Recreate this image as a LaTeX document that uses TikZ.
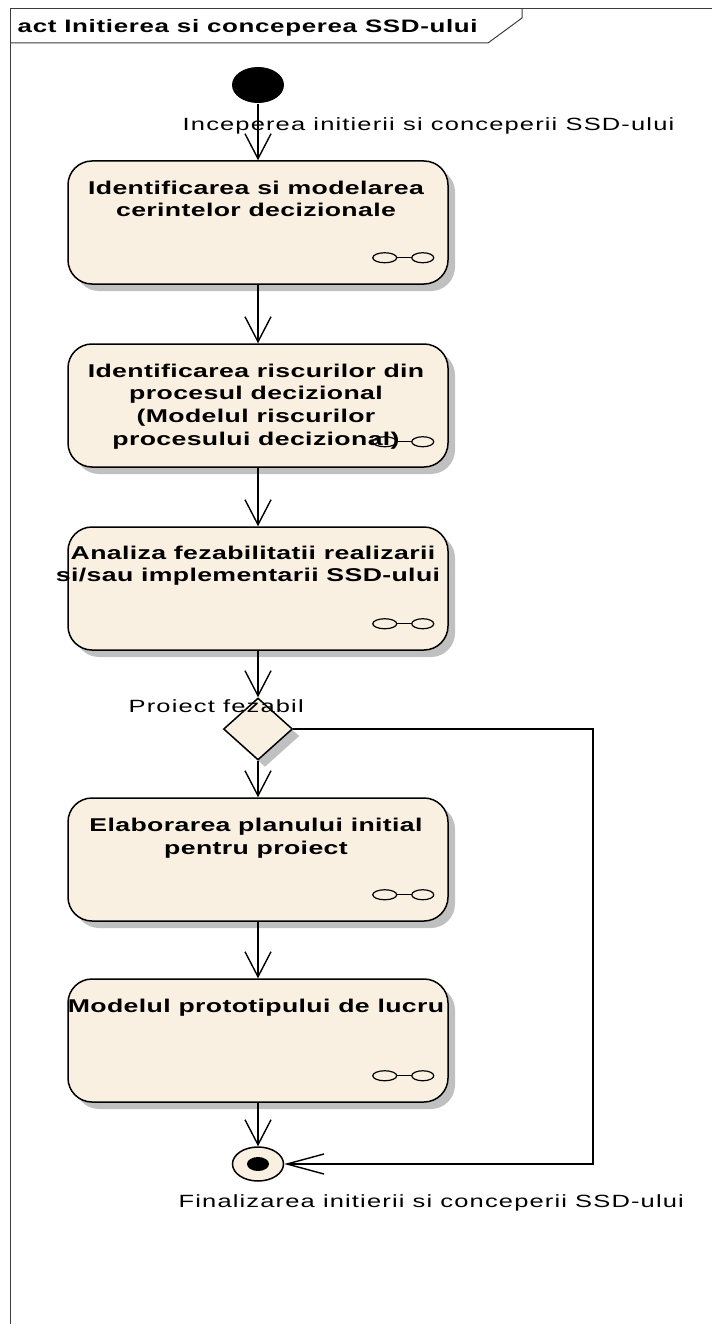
\documentclass[tikz,border=0pt]{standalone}
\usepackage{fontspec}
\setmainfont{Liberation Sans}
\newfontfamily\ftlblfam[FakeStretch=1.44,LetterSpace=6.5]{Liberation Sans}
\newfontfamily\ftboxfam[FakeStretch=1.44,LetterSpace=2]{Liberation Sans}
\newfontfamily\ftheadfam[FakeStretch=1.44,LetterSpace=3.7]{Liberation Sans}
\usetikzlibrary{shapes.geometric,arrows.meta,shadows,calc}
\definecolor{boxfill}{RGB}{250,240,226}
\definecolor{shadowgray}{RGB}{192,192,192}
\definecolor{framecol}{RGB}{60,60,60}
\begin{document}
\begin{tikzpicture}[x=1pt,y=-1pt,line width=1.4pt,
  shad/.style={drop shadow={shadow xshift=7pt,shadow yshift=-7pt,fill=shadowgray,opacity=1}},
  actbox/.style={draw,line width=1.5pt,fill=boxfill,rounded corners=24pt,minimum width=380pt,minimum height=123pt,inner sep=0pt,shad},
  boxtxt/.style={anchor=base,inner sep=0pt,font=\ftboxfam\bfseries\fontsize{18.5}{23}\selectfont},
  lbl/.style={anchor=base west,inner sep=0pt,font=\ftlblfam\fontsize{17.7}{21}\selectfont},
  varrow/.style={-{Straight Barb[length=25pt,width=26pt]}},
  harrow/.style={-{Straight Barb[length=37pt,width=20pt]}},
  icon/.style={line width=1.2pt},
  framestyle/.style={draw=framecol,line width=1pt}]
\useasboundingbox (0,0) rectangle (712,1324);
% frame
\draw[framestyle] (712,9) -- (10,9) -- (10,1324);
\draw[framestyle] (10,43) -- (488,43) -- (522,18) -- (522,9);
\node[anchor=base west,inner sep=0pt,font=\ftheadfam\bfseries\fontsize{18}{20}\selectfont] (hdr) at (17,33) {act Initierea si conceperea SSD-ului};
% nodes
\node[ellipse,fill=black,minimum width=52pt,minimum height=36pt,inner sep=0pt] (start) at (258,85) {};
\node[actbox] (b1) at (258,222.5) {};
\node[actbox] (b2) at (258,405.5) {};
\node[actbox] (b3) at (258,588.5) {};
\node[diamond,draw,line width=1.5pt,fill=boxfill,minimum width=69pt,minimum height=62pt,inner sep=0pt,shad] (dec) at (258,729) {};
\node[actbox] (b4) at (258,859.5) {};
\node[actbox] (b5) at (258,1040.5) {};
\node[ellipse,draw,line width=1.5pt,fill=boxfill,minimum width=51pt,minimum height=34pt,inner sep=0pt] (fin) at (258,1164) {};
\fill (fin.center) ellipse[x radius=11,y radius=7];
% icons
\foreach \b/\dy in {b1/-27,b2/-26,b3/-27,b4/-27,b5/-27}{
  \draw[icon] ($(\b.south east)+(-64,\dy)$) ellipse[x radius=12,y radius=5];
  \draw[icon] ($(\b.south east)+(-26,\dy)$) ellipse[x radius=11,y radius=5];
  \draw[icon] ($(\b.south east)+(-52,\dy)$) -- ($(\b.south east)+(-37,\dy)$);
}
% box texts
\node[boxtxt] (t1a) at ($(b1.north)+(-2,34)$) {Identificarea si modelarea};
\node[boxtxt] (t1b) at ($(b1.north)+(-2,56)$) {cerintelor decizionale};
\node[boxtxt] (t2a) at ($(b2.north)+(-2,34)$) {Identificarea riscurilor din};
\node[boxtxt] (t2b) at ($(b2.north)+(-2,56)$) {procesul decizional};
\node[boxtxt] (t2c) at ($(b2.north)+(-2,79)$) {(Modelul riscurilor};
\node[boxtxt] (t2d) at ($(b2.north)+(-2,102)$) {procesului decizional)};
\node[boxtxt] (t3a) at ($(b3.north)+(-5,33)$) {Analiza fezabilitatii realizarii};
\node[boxtxt] (t3b) at ($(b3.north)+(-10,55)$) {si/sau implementarii SSD-ului};
\node[boxtxt] (t4a) at ($(b4.north)+(-2,34)$) {Elaborarea planului initial};
\node[boxtxt] (t4b) at ($(b4.north)+(-2,57)$) {pentru proiect};
\node[boxtxt] (t5a) at ($(b5.north)+(-2,34)$) {Modelul prototipului de lucru};
% connectors
\draw[varrow] (start) -- (b1.north);
\draw[varrow] (b1.south) -- (b2.north);
\draw[varrow] (b2.south) -- (b3.north);
\draw[varrow] (b3.south) -- (dec.north);
\draw[varrow] (dec.south) -- (b4.north);
\draw[varrow] (b4.south) -- (b5.north);
\draw[varrow] (b5.south) -- (fin.north);
\coordinate (c1) at (593,729);
\coordinate (c2) at (593,1164);
\draw[harrow] (dec.east) -- (c1) -- (c2) -- (fin.east);
% labels
\node[lbl] (l1) at (182,131) {Inceperea initierii si conceperii SSD-ului};
\node[lbl] (l2) at (128,712) {Proiect fezabil};
\node[lbl] (l3) at (178,1207) {Finalizarea initierii si conceperii SSD-ului};
\end{tikzpicture}
\end{document}
